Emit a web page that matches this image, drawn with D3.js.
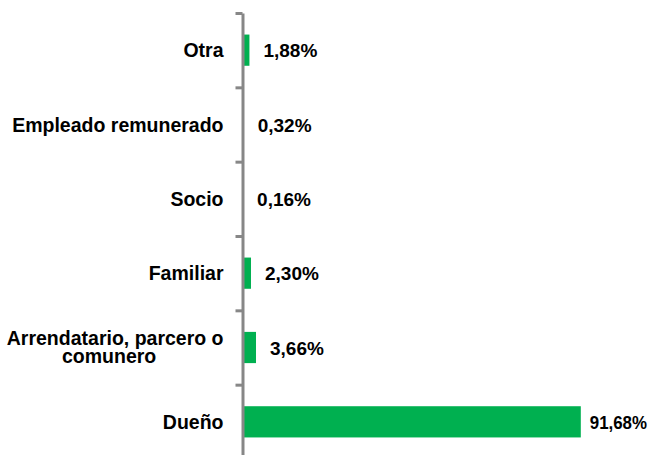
<!DOCTYPE html>
<html>
<head>
<meta charset="utf-8">
<script src="https://cdn.jsdelivr.net/npm/d3@7"></script>
<style>
	body { margin: 0; background: #fff; }
	text { font-family: "Liberation Sans", Arial, sans-serif; font-weight: bold; fill: #000; }
</style>
</head>
<body>
<script>
// chart data, top to bottom
var categories = ["Otra", "Empleado remunerado", "Socio", "Familiar", "Arrendatario, parcero o comunero", "Dueño"];
var values = [1.88, 0.32, 0.16, 2.30, 3.66, 91.68];
var valueLabels = ["1,88%", "0,32%", "0,16%", "2,30%", "3,66%", "91,68%"];
// category labels split in lines
var categoryLines = [["Otra"], ["Empleado remunerado"], ["Socio"], ["Familiar"], ["Arrendatario, parcero o", "comunero"], ["Dueño"]];

window.onload = drawChart();

function drawChart(){

	var width = 658,
	height = 455;

	var axisX = 242.5,
		top = 13,
		bottom = 459,
		labelRight = 223.5;

	var svg = d3.select("body")
		.append("svg")
		.attr("width", width)
		.attr("height", height);

	// band scale for the bars
	var y = d3.scaleBand()
		.domain(categories)
		.range([top, bottom])
		.paddingInner(0.58)
		.paddingOuter(0.29);

	// linear scale on index for the boundary ticks
	var yTicks = d3.scaleLinear()
		.domain([0, categories.length])
		.range([top, bottom]);

	var x = d3.scaleLinear()
		.domain([0, 100])
		.range([axisX, axisX + 369]);

	var data = categories.map(function(c, i){
		return { cat: c, value: values[i], label: valueLabels[i], lines: categoryLines[i] };
	});

	// bars
	svg.selectAll(".bar")
		.data(data)
		.enter()
		.append("rect")
		.attr("class", "bar")
		.attr("x", x(0))
		.attr("y", function(d){ return y(d.cat); })
		.attr("width", function(d){ return x(d.value) - x(0); })
		.attr("height", y.bandwidth())
		.attr("fill", "#00b050");

	// axis with ticks on the category boundaries
	var axis = svg.append("g")
		.attr("transform", "translate(" + axisX + ",0)")
		.call(d3.axisLeft(yTicks)
			.tickValues(d3.range(categories.length + 1))
			.tickSize(7)
			.tickSizeOuter(0)
			.tickFormat(""));
	axis.selectAll("path, line")
		.attr("stroke", "#878787")
		.attr("stroke-width", 3);

	// category labels, block right aligned and lines centred
	svg.selectAll(".cat")
		.data(data)
		.enter()
		.append("text")
		.attr("class", "cat")
		.attr("font-size", 19.5)
		.attr("text-anchor", "middle")
		.each(function(d){
			var t = d3.select(this);
			var cy = y(d.cat) + y.bandwidth() / 2;
			var n = d.lines.length;
			var spans = d.lines.map(function(line, j){
				var base = n == 1 ? cy + 7 : cy - 2.5 + j * 18.3;
				return t.append("tspan")
					.attr("y", base)
					.text(line);
			});
			var maxW = d3.max(spans, function(s){ return s.node().getComputedTextLength(); });
			spans.forEach(function(s, j){
				// last line of a wrapped label sits a bit left, as in the original
				var shift = (n > 1 && j == n - 1) ? -6 : 0;
				s.attr("x", labelRight - maxW / 2 + shift);
			});
		});

	// value labels, squeezed when they would run past the right edge
	svg.selectAll(".val")
		.data(data)
		.enter()
		.append("text")
		.attr("class", "val")
		.attr("font-size", 19)
		.attr("y", function(d){ return y(d.cat) + y.bandwidth() / 2 + 7; })
		.text(function(d){ return d.label; })
		.each(function(d){
			var t = d3.select(this);
			var w = this.getComputedTextLength();
			var x0 = x(d.value) + 14;
			if (x0 + w > 647) {
				x0 = x(d.value) + 9;
				t.attr("textLength", 647 - x0)
					.attr("lengthAdjust", "spacingAndGlyphs");
			}
			t.attr("x", x0);
		});
};
</script>
</body>
</html>
